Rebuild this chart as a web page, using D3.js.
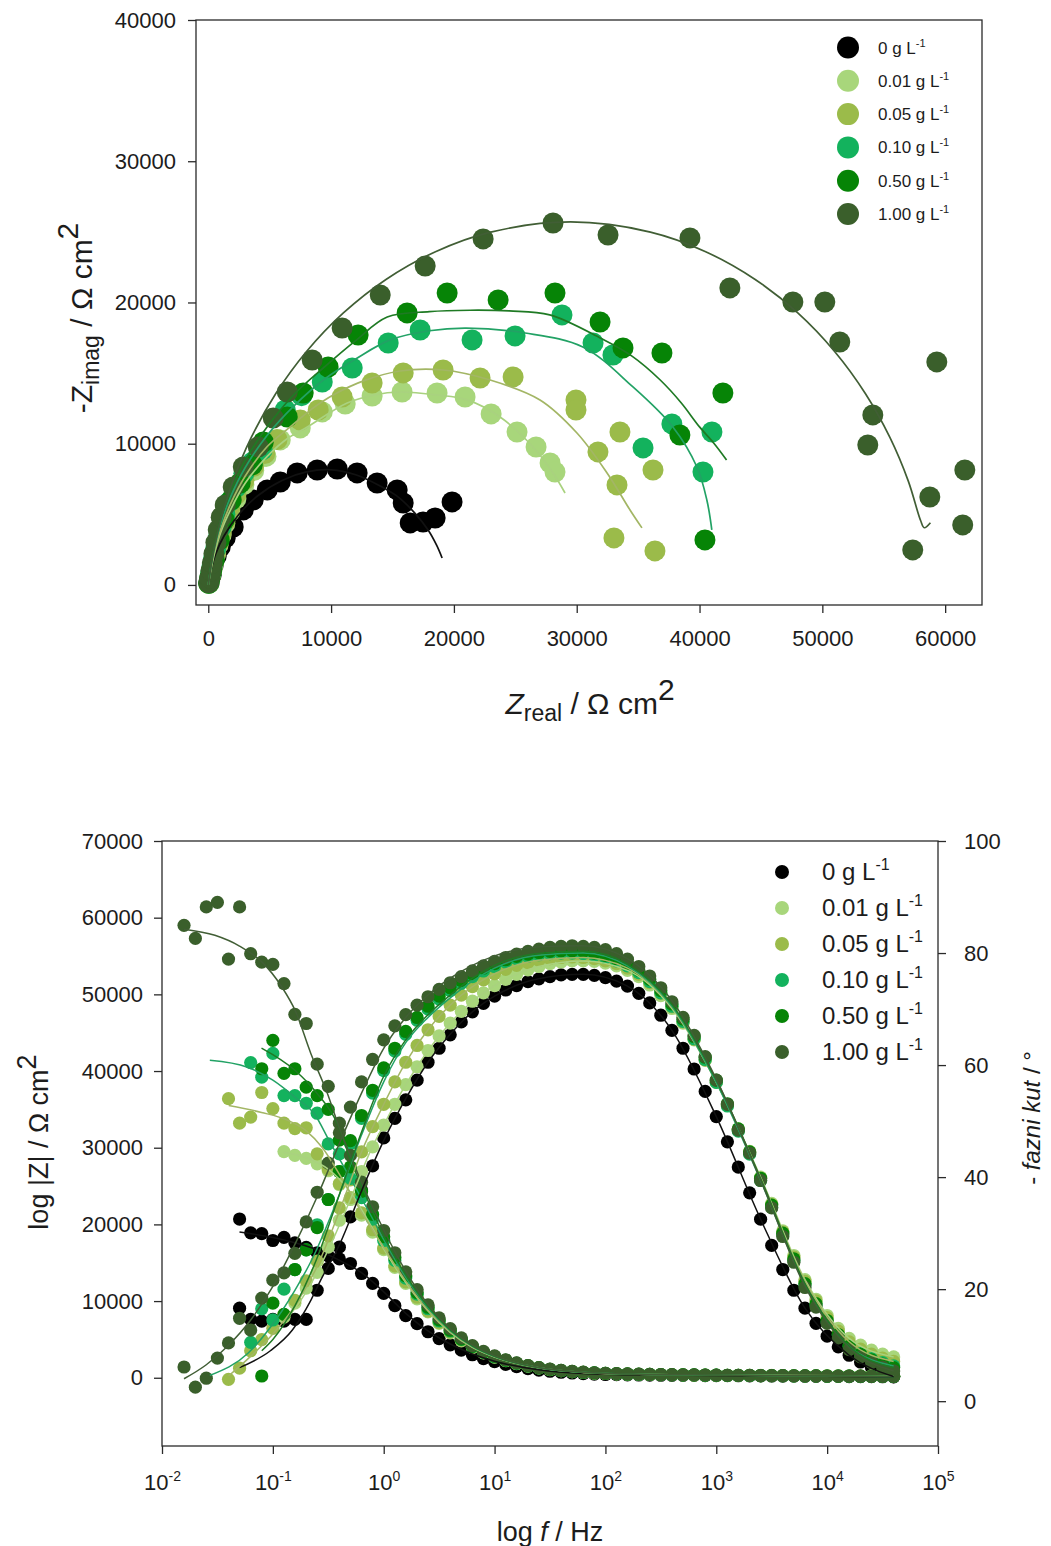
<!DOCTYPE html>
<html><head><meta charset="utf-8">
<script src="https://cdn.jsdelivr.net/npm/d3@7"></script>
<style>
body{margin:0;background:#fff;}
svg text{font-family:"Liberation Sans",Arial,sans-serif;fill:#1c1c1c;}
</style></head><body>
<svg id="chart" width="1051" height="1546"></svg>
<script>
// ---------------- DATA ----------------
const seriesLabels = ["0", "0.01", "0.05", "0.10", "0.50", "1.00"];
const seriesColors = ["#000000", "#a8d67b", "#9bbb4a", "#13b25d", "#068406", "#3a5f2b"];
const fitColors    = ["#111111", "#a9d27f", "#a3b665", "#22a265", "#1f7a24", "#415e35"];

// Nyquist tick values
const nyqXTicks = [0, 10000, 20000, 30000, 40000, 50000, 60000];
const nyqYTicks = [0, 10000, 20000, 30000, 40000];
// Bode tick values
const bodeFTicks = [0.01, 0.1, 1, 10, 100, 1000, 10000, 100000];
const bodeFExp   = [-2, -1, 0, 1, 2, 3, 4, 5];
const bodeZTicks = [0, 10000, 20000, 30000, 40000, 50000, 60000, 70000];
const bodePTicks = [0, 20, 40, 60, 80, 100];

// Nyquist points [Zreal, -Zimag] (Ω cm²)
const nyq_0 = [[100,250],[240,700],[400,1400],[650,2050],[980,2700],[1380,3330],[2030,4100],[2850,5310],[3660,6020],[4800,6730],[5860,7290],[7240,7930],[8870,8140],[10500,8210],[12120,7930],[13750,7220],[15380,6730],[15870,5800],[16440,4390],[17490,4460],[18470,4740],[19850,5880]];
const nyq_001 = [[40,100],[110,350],[200,720],[310,1150],[440,1650],[600,2200],[800,2850],[1050,3550],[1350,4350],[1750,5200],[2250,6100],[2900,7100],[3700,8100],[4700,9100],[5860,10270],[7490,11120],[9280,12250],[11150,12810],[13340,13380],[15780,13660],[18630,13590],[20910,13310],[23030,12110],[25140,10830],[26690,9770],[27830,8640],[28230,8000]];
const nyq_005 = [[40,110],[110,380],[200,780],[310,1250],[440,1750],[600,2300],[800,2950],[1050,3700],[1350,4500],[1750,5400],[2250,6400],[2900,7400],[3700,8400],[4600,9300],[5600,10300],[7490,11680],[8950,12390],[10900,13310],[13340,14300],[15870,15010],[19120,15220],[22130,14650],[24820,14730],[29940,13100],[29940,12390],[31730,9420],[33520,10830],[33280,7080],[36210,8140],[33030,3330],[36370,2410]];
const nyq_010 = [[40,120],[110,420],[200,850],[310,1350],[440,1900],[600,2550],[800,3300],[1050,4100],[1350,5000],[1750,5900],[2250,6900],[2900,7900],[3600,8700],[4390,9560],[6270,12390],[7600,13400],[9280,14370],[11720,15360],[14650,17130],[17250,18050],[21480,17350],[24980,17630],[28800,19120],[31330,17130],[32950,16280],[37750,11400],[41010,10830],[35400,9700],[40280,8000]];
const nyq_050 = [[40,130],[130,500],[280,1000],[490,1770],[900,3190],[1300,4600],[1870,6020],[2600,7220],[3580,8500],[4480,10120],[6430,11890],[7730,13590],[9760,15430],[12200,17700],[16190,19260],[19450,20670],[23600,20180],[28230,20670],[31900,18620],[33770,16780],[36940,16420],[41900,13590],[38400,10620],[40440,3190]];
const nyq_100 = [[40,150],[120,500],[220,1000],[330,1550],[460,2200],[620,3000],[810,3890],[1050,4800],[1380,5660],[2030,6940],[2850,8350],[4070,9770],[5290,11820],[6430,13660],[8460,15930],[10900,18190],[14000,20530],[17660,22580],[22380,24500],[28070,25630],[32550,24780],[39220,24570],[42470,21030],[47600,20035],[50200,20035],[51420,17200],[59320,15790],[54110,12040],[53700,9910],[61600,8140],[58750,6230],[61430,4250],[57360,2480]];

// Nyquist fitted curves
const fitNyq_0 = [[0,0],[200,1000],[600,2200],[1300,3500],[2500,5000],[4000,6300],[6000,7400],[8000,8000],[10000,8150],[12000,7800],[14000,7000],[15500,6200],[16800,5100],[17900,3890],[18600,2800],[19040,1910]];
const fitNyq_001 = [[0,0],[200,1000],[500,2200],[1000,3700],[1800,5300],[3000,7200],[4800,9100],[6500,10400],[8060,11190],[11310,12880],[13500,13450],[15620,13660],[18630,13450],[21070,13100],[23760,11890],[26440,9770],[28070,7930],[29050,6510]];
const fitNyq_005 = [[0,0],[200,1100],[500,2400],[1000,3900],[1800,5700],[3000,7700],[4800,9800],[6670,11190],[8500,12500],[10170,13450],[12800,14500],[15620,15150],[19120,15220],[22950,14510],[27010,13100],[30020,10760],[32470,7930],[34340,5310],[35310,4040]];
const fitNyq_010 = [[0,0],[200,1200],[500,2600],[1000,4300],[1800,6200],[3000,8300],[4800,10600],[7000,12700],[9500,14600],[12000,16000],[14810,17350],[18000,18000],[21000,18190],[25800,17840],[30500,16850],[34580,14020],[37830,11190],[39790,8350],[40600,6000],[41000,3900]];
const fitNyq_050 = [[0,0],[200,1300],[500,2800],[1000,4600],[1800,6600],[3000,8800],[4800,11200],[7000,13500],[9360,15360],[12000,17300],[14570,18970],[18000,19350],[21320,19450],[24500,19400],[27800,19120],[31900,17490],[34500,16200],[36800,14510],[38500,12900],[40000,11190],[41200,10000],[42200,8850]];
const fitNyq_100 = [[0,0],[250,1517],[500,2694],[1000,4560],[2000,7350],[3500,10441],[5500,13551],[8000,16526],[11000,19257],[14500,21647],[18500,23594],[23000,24982],[29500,25700],[36000,24982],[40500,23594],[44500,21647],[48000,19257],[51000,16526],[53500,13551],[55500,10441],[57000,7350],[58000,4560],[58300,4050],[58800,4400]];

// Bode: frequencies (Hz); each series array is aligned to the END of this list
const freqHz = [0.0158,0.02,0.0251,0.0316,0.0398,0.0501,0.0631,0.0794,
  0.1,0.126,0.158,0.2,0.251,0.316,0.398,0.501,0.631,0.794,
  1,1.26,1.58,2,2.51,3.16,3.98,5.01,6.31,7.94,
  10,12.6,15.8,20,25.1,31.6,39.8,50.1,63.1,79.4,
  100,126,158,200,251,316,398,501,631,794,
  1000,1260,1580,2000,2510,3160,3980,5010,6310,7940,
  10000,12600,15800,20000,25100,31600,39800];

const modZ_0 = [20700,18900,18800,17900,18300,17600,17000,16300,15900,15500,14900,13600,12300,
  11000,9400,8100,7050,6000,5100,4300,3600,3000,2500,
  2100,1750,1450,1200,1000,850,720,620,540,480,430,
  400,380,360,345,330,320,310,300,290,280,270,260,250,240,230,220,210,200,190,180,170,160,150,140,130,120];
const modZ_001 = [29500,29000,28600,27900,27000,25200,23300,21200,19000,
  16700,14400,12300,10300,8600,7100,5850,4820,3950,3240,
  2690,2230,1840,1520,1280,1070,920,790,690,615,555,
  510,475,450,428,408,390,375,362,350,340,330,320,312,305,298,292,286,280,275,270,265,260,255,250,245,240];
const modZ_005 = [36400,33200,34000,37200,35100,33200,32500,32600,29200,27200,25300,23500,21500,19300,
  16900,14600,12500,10500,8700,7200,5950,4900,4000,3280,
  2720,2250,1860,1540,1290,1080,930,800,700,620,560,
  515,480,455,430,410,390,375,360,345,330,318,305,295,285,275,265,255,245,235,225,215,210,205,200,195,190];
const modZ_010 = [41100,39200,42300,36800,36800,35800,34500,30500,29200,26000,23500,20700,
  17900,15300,13000,10900,9000,7400,6100,5000,4050,3300,
  2740,2270,1880,1550,1300,1090,940,810,710,630,570,
  520,490,460,435,415,395,380,365,350,335,320,305,295,285,275,265,255,245,235,225,215,205,195,185,175,170];
const modZ_050 = [40300,44000,39700,40300,37900,36800,35000,31000,27500,24300,21300,
  18400,15700,13300,11100,9200,7550,6200,5050,4100,3350,
  2780,2300,1900,1570,1310,1100,950,820,720,640,580,
  530,495,465,440,420,400,385,370,355,340,325,310,300,290,280,270,260,250,240,230,220,210,200,190,180,175];
const modZ_100 = [59000,57300,61400,62000,54600,61400,55300,54200,53900,51400,47400,46200,40900,38000,33200,29000,25500,22300,
  19200,16300,13800,11500,9500,7800,6400,5200,4200,3450,
  2850,2350,1950,1600,1330,1120,960,830,730,650,590,
  540,500,470,445,425,405,390,375,360,345,330,315,300,290,280,270,260,250,240,230,220,210,200,190,180,170];

const phase_0 = [16.6,14.6,14.3,14.6,14.3,14.6,14.6,19.8,23.7,27.5,32.9,37.7,42,
  47,50.5,53.8,57.3,60.5,63,65.4,67.7,69.5,71,
  72.3,73.4,74.2,74.9,75.4,75.8,76.1,76.2,76.2,76.0,
  75.6,75.0,74.1,72.8,71.1,68.9,66.2,63,59.3,55.3,
  50.8,46.3,41.8,37.2,32.5,27.8,23.5,19.8,16.6,13.9,
  11.6,9.7,8.2,7,6,5.1,4.4];
const phase_001 = [15,17.5,20.2,23,27.5,32.3,36,41,45.4,
  49.3,53,56.5,59.7,62.6,65.2,67.5,69.6,71.4,72.9,
  74.2,75.3,76.2,77,77.6,78.1,78.4,78.6,78.6,78.5,
  78.2,77.7,76.9,75.8,74.3,72.4,70.1,67.5,64.5,60.9,
  57,52.9,48.6,44.6,40,35.3,30.4,26,21.7,18.2,
  15.3,13,11.2,10,9.1,8.4,7.9];
const phase_005 = [3.9,5.9,9.0,11,13,15.5,18,21.5,25,29.5,34.5,39.5,44.5,49,
  53,57,60.5,63.5,66.3,68.7,70.7,72.5,74,75.2,
  76.3,77.1,77.8,78.3,78.7,79,79.2,79.3,79.2,79.0,
  78.6,78.1,77.3,76.2,74.7,72.8,70.4,67.7,64.6,60.9,
  56.9,52.8,48.4,44.4,39.8,35.1,30.2,25.7,21.4,17.9,
  14.9,12.5,10.6,9.3,8.4,7.7,7.1];
const phase_010 = [10.5,16.5,14.5,20,23.5,27,31.5,36,41,46,50.5,55,
  59,62.5,65.5,68,70,71.8,73.3,74.6,75.8,76.8,
  77.6,78.4,79,79.4,79.7,79.9,80.0,80.0,79.9,79.6,
  79.2,78.6,77.7,76.5,74.9,72.9,70.5,67.8,64.7,61.0,
  56.9,52.7,48.2,44.1,39.4,34.6,29.7,25.1,20.8,17.2,
  14.2,11.8,9.8,8.5,7.6,6.9,6.3];
const phase_050 = [4.5,17.5,15.5,23.5,27,31,36,41,46.5,51,55.5,
  59.5,63,66,68.5,70.5,72.3,73.8,75.1,76.3,77.3,
  78.1,78.8,79.4,79.8,80.1,80.3,80.4,80.4,80.3,80.0,
  79.6,79.0,78.1,76.9,75.3,73.3,70.9,68.2,65.1,61.4,
  57.3,53.1,48.6,44.5,39.8,35,30,25.4,21,17.4,
  14.4,11.9,9.8,8.4,7.4,6.6,6.0];
const phase_100 = [6.1,2.5,4.1,7.7,10.4,14.8,12.7,18.4,21.6,22.9,26.4,32,37.3,42.5,47.9,52.5,57,61,
  64.5,67,69,70.7,72.2,73.5,74.7,75.8,76.8,77.7,
  78.5,79.2,79.8,80.3,80.7,81.0,81.2,81.3,81.2,81.0,
  80.6,79.9,78.9,77.6,75.9,73.8,71.3,68.5,65.3,61.5,
  57.3,53,48.4,44.3,39.4,34.5,29.4,24.8,20.3,16.8,
  13.9,11.3,9.2,7.9,6.9,6.1,5.4];

// Bode fitted curves [f (Hz), value]
const fitZ_0 = [[0.05,19000],[0.1,18300],[0.158,17600],[0.25,16700],[0.4,15300],[0.63,13700],[1,11200],[1.58,8400],[2.51,6100],[3.98,4400],[6.31,3100],[10,2150],[25,1050],[63,560],[200,380],[1000,300],[5000,220],[39800,130]];
const fitZ_001 = [[0.126,29400],[0.2,28700],[0.316,27200],[0.5,24200],[0.79,19500],[1,16800],[1.58,12400],[2.51,8700],[3.98,5900],[6.31,3950],[10,2700],[25,1300],[63,700],[200,460],[1000,360],[5000,300],[39800,240]];
const fitZ_005 = [[0.04,35500],[0.079,34600],[0.135,33600],[0.2,32200],[0.28,30000],[0.4,26500],[0.63,21600],[1,17000],[1.58,12600],[2.51,8800],[3.98,6000],[6.31,4000],[10,2730],[25,1300],[63,700],[200,450],[1000,345],[5000,275],[39800,190]];
const fitZ_010 = [[0.027,41400],[0.059,40500],[0.1,38800],[0.158,36600],[0.24,34300],[0.32,31000],[0.5,26000],[0.79,20800],[1,18000],[1.58,13100],[2.51,9100],[3.98,6150],[6.31,4100],[10,2750],[25,1310],[63,710],[200,460],[1000,350],[5000,265],[39800,170]];
const fitZ_050 = [[0.079,43000],[0.158,40100],[0.25,37100],[0.38,33200],[0.5,28500],[0.79,21800],[1,18500],[1.58,13400],[2.51,9300],[3.98,6250],[6.31,4150],[10,2790],[25,1320],[63,720],[200,465],[1000,355],[5000,270],[39800,175]];
const fitZ_100 = [[0.0158,58500],[0.03,57700],[0.05,56300],[0.08,54200],[0.12,51000],[0.16,47800],[0.22,42300],[0.31,37100],[0.4,32500],[0.5,29000],[0.63,25500],[1,19300],[1.58,13900],[2.51,9550],[3.98,6400],[6.31,4250],[10,2860],[25,1340],[63,730],[200,470],[1000,360],[5000,270],[39800,170]];

const fitPh_0 = [[0.05,6],[0.095,9],[0.15,12.7],[0.22,18],[0.27,21.6],[0.4,28],[0.63,37.5],[1,46.5],[1.58,54],[2.51,60.5],[3.98,65.5],[6.31,69.5],[10,72.3],[25,75.4],[63,76.2],[158,74.1],[398,66.2],[1000,50.8],[2510,32.5],[6310,16.6],[15800,8.2],[39800,4.4]];
const fitPh_001 = [[0.126,14],[0.2,19.5],[0.316,27],[0.5,36],[0.79,45.4],[1,49.3],[1.58,56.5],[2.51,62.6],[3.98,67.5],[6.31,71.4],[10,74.2],[25,77.6],[63,78.6],[158,76.9],[398,70.1],[1000,57],[2510,40],[6310,21.7],[15800,11.2],[39800,7.9]];
const fitPh_005 = [[0.0398,4.5],[0.063,8],[0.1,12],[0.158,17],[0.25,24],[0.4,34],[0.63,44.5],[1,53],[1.58,60.5],[2.51,66.3],[3.98,70.7],[6.31,74],[10,76.3],[25,78.7],[63,79.2],[158,77.3],[398,70.4],[1000,56.9],[2510,39.8],[6310,21.4],[15800,10.6],[39800,7.1]];
const fitPh_010 = [[0.027,4.6],[0.06,8.6],[0.095,13.2],[0.158,19.8],[0.224,25.2],[0.4,37],[0.63,47.5],[1,57],[1.58,64],[2.51,68.5],[3.98,72],[6.31,75],[10,77.3],[25,79.6],[63,80],[158,77.7],[398,70.5],[1000,56.9],[2510,39.4],[6310,20.8],[15800,9.8],[39800,6.3]];
const fitPh_050 = [[0.0794,9],[0.1,11],[0.158,17],[0.25,25.5],[0.4,37],[0.63,48],[1,58],[1.58,64.5],[2.51,69],[3.98,72.5],[6.31,75.5],[10,77.8],[25,79.9],[63,80.3],[158,78],[398,70.8],[1000,57.3],[2510,39.8],[6310,21],[15800,9.8],[39800,6]];
const fitPh_100 = [[0.0158,4],[0.0251,6.5],[0.0398,10],[0.0631,14.5],[0.1,20.5],[0.158,28],[0.251,36.5],[0.398,46],[0.631,55],[1,63],[1.58,68.5],[2.51,72.5],[3.98,75.5],[6.31,77.8],[10,79.5],[25,81.1],[63,81.3],[158,79],[398,71.5],[1000,57.5],[2510,39.5],[6310,20.5],[15800,9.5],[39800,5.4]];

// ---------------- DRAWING ----------------
const nyqPts  = [nyq_0, nyq_001, nyq_005, nyq_010, nyq_050, nyq_100];
const nyqFits = [fitNyq_0, fitNyq_001, fitNyq_005, fitNyq_010, fitNyq_050, fitNyq_100];
const modZ    = [modZ_0, modZ_001, modZ_005, modZ_010, modZ_050, modZ_100];
const phases  = [phase_0, phase_001, phase_005, phase_010, phase_050, phase_100];
const fitZ    = [fitZ_0, fitZ_001, fitZ_005, fitZ_010, fitZ_050, fitZ_100];
const fitPh   = [fitPh_0, fitPh_001, fitPh_005, fitPh_010, fitPh_050, fitPh_100];

const svg = d3.select("#chart");
const axisColor = "#2a2a2a";

function styleAxis(g){
  g.select(".domain").remove();
  g.selectAll(".tick line").attr("stroke", axisColor).attr("stroke-width", 1.3);
  g.selectAll(".tick text").attr("font-size", 22).attr("fill", "#1c1c1c")
    .attr("font-family", "'Liberation Sans', Arial, sans-serif");
}
function frame(x0, y0, x1, y1){
  svg.append("rect").attr("x", x0).attr("y", y0).attr("width", x1 - x0).attr("height", y1 - y0)
    .attr("fill", "none").attr("stroke", axisColor).attr("stroke-width", 1.3);
}

// ===== Nyquist =====
const NL = 196, NR = 982, NT = 20, NB = 605;
const xN = d3.scaleLinear().domain([-1000, 63000]).range([NL, NR]);
const yN = d3.scaleLinear().domain([-1420, 40000]).range([NB, NT]);

svg.append("g").attr("transform", `translate(0,${NB})`)
  .call(d3.axisBottom(xN).tickValues(nyqXTicks).tickSize(8).tickPadding(17).tickFormat(d3.format("d")))
  .call(styleAxis);
svg.append("g").attr("transform", `translate(${NL},0)`)
  .call(d3.axisLeft(yN).tickValues(nyqYTicks).tickSize(8).tickPadding(12).tickFormat(d3.format("d")))
  .call(styleAxis);

const nyqG = svg.append("g");
nyqPts.forEach((pts, i) => {
  nyqG.append("g").selectAll("circle").data(pts).join("circle")
    .attr("cx", d => xN(d[0])).attr("cy", d => yN(d[1])).attr("r", 10.5)
    .attr("fill", seriesColors[i]);
});
const lineN = d3.line().x(d => xN(d[0])).y(d => yN(d[1])).curve(d3.curveCatmullRom.alpha(0.5));
nyqFits.forEach((pts, i) => {
  nyqG.append("path").attr("d", lineN(pts)).attr("fill", "none")
    .attr("stroke", fitColors[i]).attr("stroke-width", 1.7);
});
frame(NL, NT, NR, NB);

// Nyquist legend
const legN = svg.append("g");
seriesLabels.forEach((lab, i) => {
  const cy = 47.5 + 33.3 * i;
  legN.append("circle").attr("cx", 848).attr("cy", cy).attr("r", 11).attr("fill", seriesColors[i]);
  const t = legN.append("text").attr("x", 878).attr("y", cy + 6).attr("font-size", 17);
  t.append("tspan").text(lab + " g L");
  t.append("tspan").attr("font-size", 11).attr("dy", -7).text("-1");
});

// Nyquist axis titles
{
  const t = svg.append("text").attr("transform", "translate(92,318) rotate(-90)")
    .attr("text-anchor", "middle").attr("font-size", 30);
  t.append("tspan").text("-Z");
  t.append("tspan").attr("font-size", 23).attr("dy", 7).text("imag");
  t.append("tspan").attr("dy", -7).text(" / \u03A9 cm");
  t.append("tspan").attr("dy", -14).text("2");
}
{
  const t = svg.append("text").attr("x", 590).attr("y", 714)
    .attr("text-anchor", "middle").attr("font-size", 30);
  t.append("tspan").attr("font-style", "italic").text("Z");
  t.append("tspan").attr("font-size", 23).attr("dy", 7).text("real");
  t.append("tspan").attr("dy", -7).text(" / \u03A9 cm");
  t.append("tspan").attr("dy", -14).text("2");
}

// ===== Bode =====
const BL = 162, BR = 938, BT = 841, BB = 1446;
const xB = d3.scaleLog().domain([0.01, 1e5]).range([BL, BR]);
const yZ = d3.scaleLinear().domain([-8900, 70000]).range([BB, BT]);
const yP = d3.scaleLinear().domain([-8, 100]).range([BB, BT]);

svg.append("g").attr("transform", `translate(${BL},0)`)
  .call(d3.axisLeft(yZ).tickValues(bodeZTicks).tickSize(8).tickPadding(11).tickFormat(d3.format("d")))
  .call(styleAxis);
svg.append("g").attr("transform", `translate(${BR},0)`)
  .call(d3.axisRight(yP).tickValues(bodePTicks).tickSize(8).tickPadding(18).tickFormat(d3.format("d")))
  .call(styleAxis);
const gxB = svg.append("g").attr("transform", `translate(0,${BB})`)
  .call(d3.axisBottom(xB).tickValues(bodeFTicks).tickSize(8).tickFormat(""))
  .call(styleAxis);
gxB.selectAll(".tick").each(function(d, i){
  const t = d3.select(this).append("text").attr("y", 44).attr("text-anchor", "middle")
    .attr("font-size", 22).attr("fill", "#1c1c1c");
  t.append("tspan").text("10");
  t.append("tspan").attr("font-size", 14).attr("dy", -9).text(bodeFExp[i]);
});

const bodeG = svg.append("g");
modZ.forEach((arr, i) => {
  const off = freqHz.length - arr.length;
  const g = bodeG.append("g");
  g.selectAll("circle.z").data(arr.map((v, k) => [freqHz[k + off], v])).join("circle")
    .attr("class", "z").attr("cx", d => xB(d[0])).attr("cy", d => yZ(d[1])).attr("r", 6.6)
    .attr("fill", seriesColors[i]);
  const ph = phases[i];
  const offp = freqHz.length - ph.length;
  g.selectAll("circle.p").data(ph.map((v, k) => [freqHz[k + offp], v])).join("circle")
    .attr("class", "p").attr("cx", d => xB(d[0])).attr("cy", d => yP(d[1])).attr("r", 6.6)
    .attr("fill", seriesColors[i]);
});
const lineZ = d3.line().x(d => xB(d[0])).y(d => yZ(d[1])).curve(d3.curveMonotoneX);
const lineP = d3.line().x(d => xB(d[0])).y(d => yP(d[1])).curve(d3.curveMonotoneX);
fitZ.forEach((pts, i) => {
  bodeG.append("path").attr("d", lineZ(pts)).attr("fill", "none")
    .attr("stroke", fitColors[i]).attr("stroke-width", 1.5);
});
fitPh.forEach((pts, i) => {
  bodeG.append("path").attr("d", lineP(pts)).attr("fill", "none")
    .attr("stroke", fitColors[i]).attr("stroke-width", 1.5);
});
frame(BL, BT, BR, BB);

// Bode legend
const legB = svg.append("g");
seriesLabels.forEach((lab, i) => {
  const cy = 872 + 36 * i;
  legB.append("circle").attr("cx", 782).attr("cy", cy).attr("r", 7).attr("fill", seriesColors[i]);
  const t = legB.append("text").attr("x", 822).attr("y", cy + 8).attr("font-size", 24);
  t.append("tspan").text(lab + " g L");
  t.append("tspan").attr("font-size", 16).attr("dy", -10).text("-1");
});

// Bode axis titles
{
  const t = svg.append("text").attr("transform", "translate(48,1142) rotate(-90)")
    .attr("text-anchor", "middle").attr("font-size", 27);
  t.append("tspan").text("log |Z| / \u03A9 cm");
  t.append("tspan").attr("dy", -12).text("2");
}
{
  const t = svg.append("text").attr("transform", "translate(1040,1118) rotate(-90)")
    .attr("text-anchor", "middle").attr("font-size", 24);
  t.append("tspan").text("- ");
  t.append("tspan").attr("font-style", "italic").text("fazni kut");
  t.append("tspan").text(" / \u00B0");
}
{
  const t = svg.append("text").attr("x", 550).attr("y", 1541)
    .attr("text-anchor", "middle").attr("font-size", 27);
  t.append("tspan").text("log ");
  t.append("tspan").attr("font-style", "italic").text("f");
  t.append("tspan").text(" / Hz");
}
</script>
</body></html>
